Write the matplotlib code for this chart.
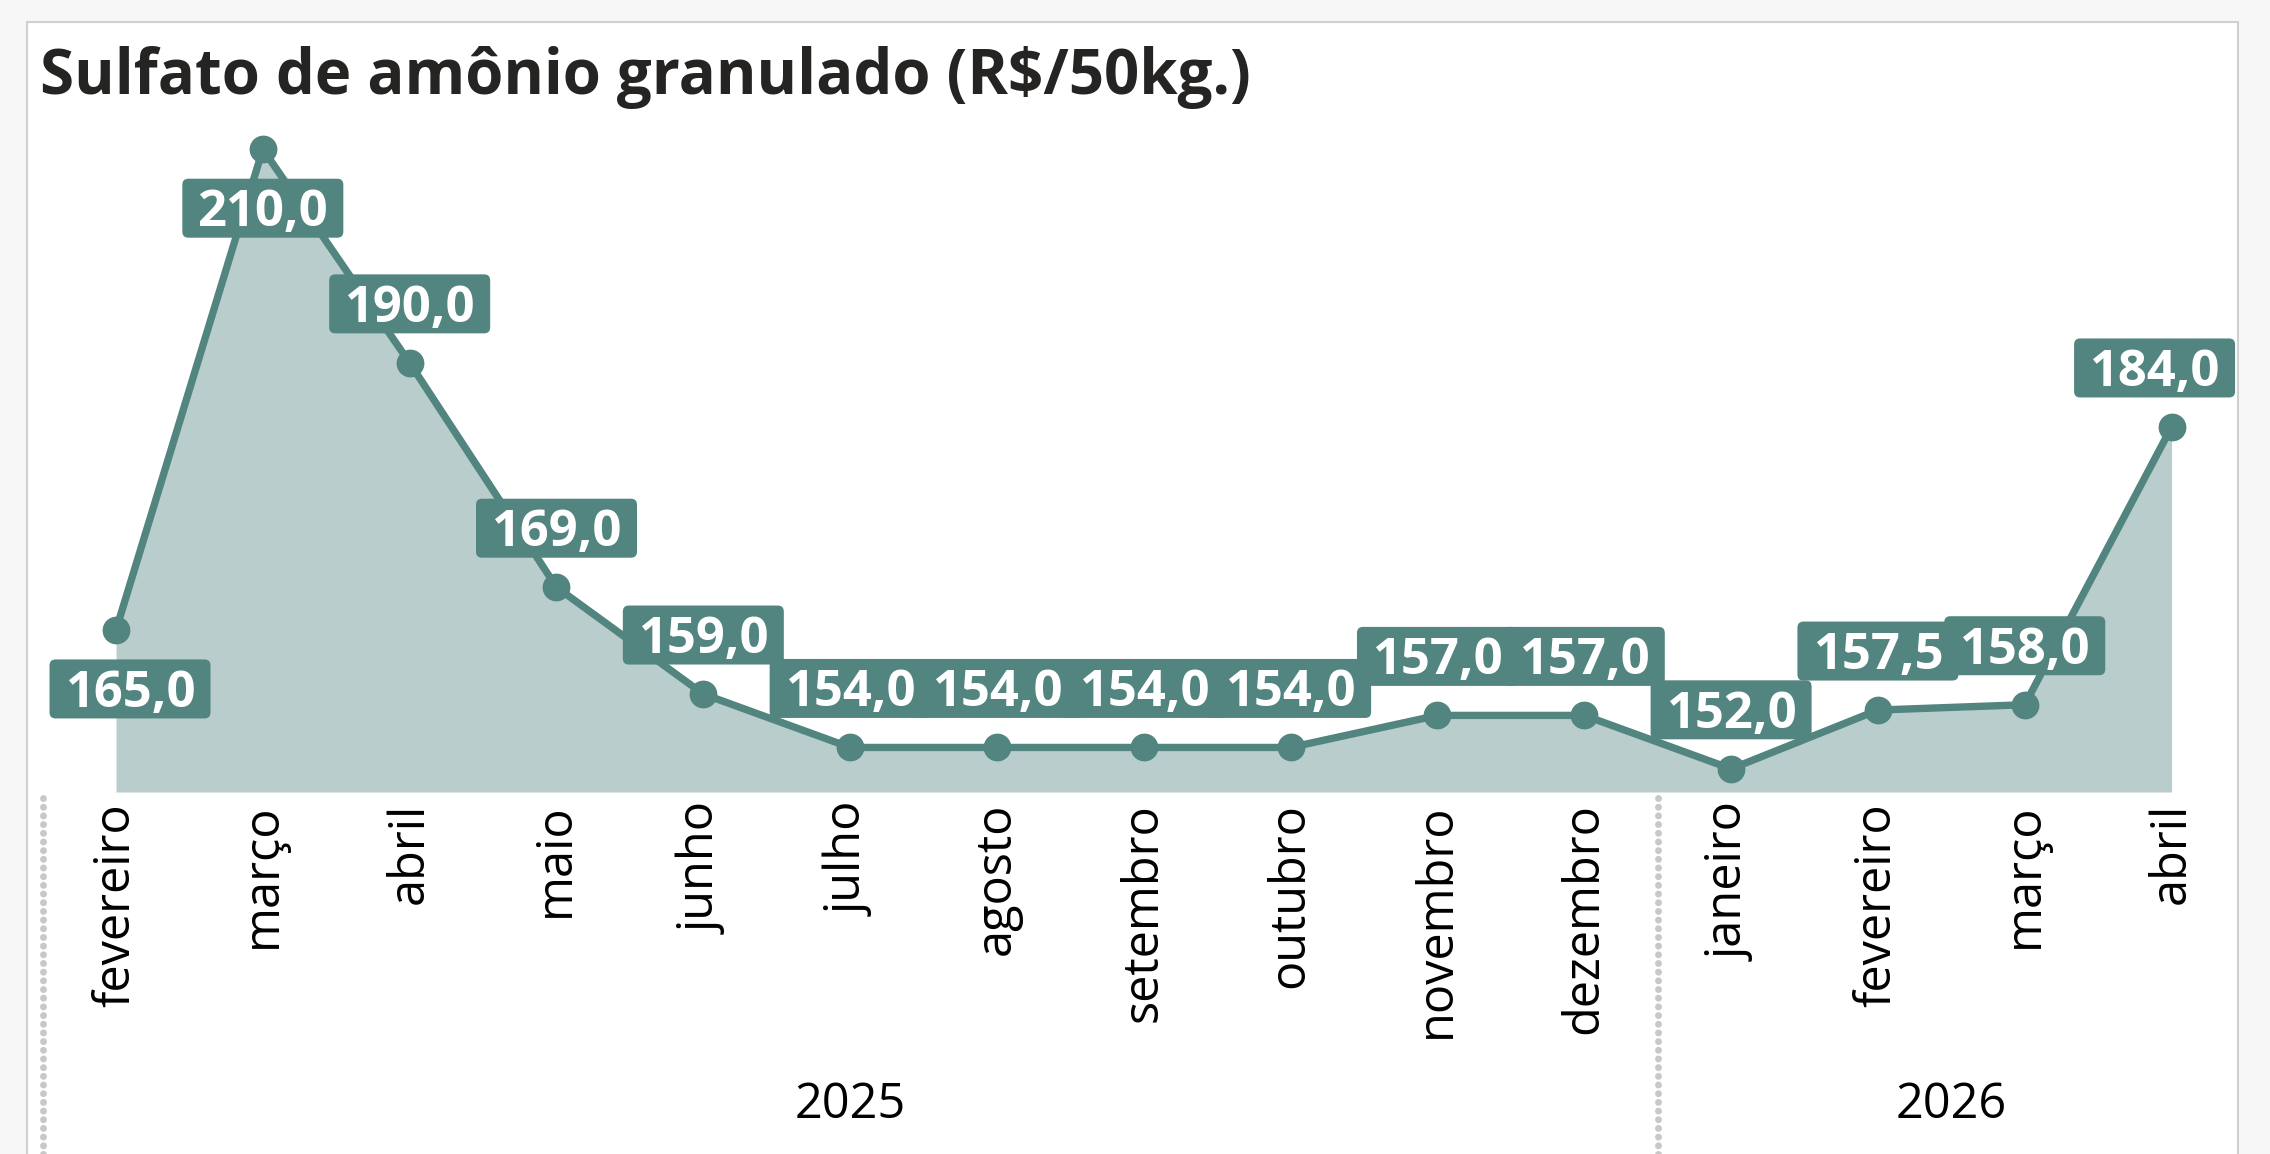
import matplotlib.pyplot as plt
import matplotlib.transforms as mtransforms
from matplotlib.patches import FancyBboxPatch, Rectangle
from matplotlib.lines import Line2D

plt.rcParams['font.family'] = ['Open Sans', 'DejaVu Sans']

# dados do gráfico
meses = ['fevereiro', 'março', 'abril', 'maio', 'junho', 'julho', 'agosto',
         'setembro', 'outubro', 'novembro', 'dezembro',
         'janeiro', 'fevereiro', 'março', 'abril']
anos = ['2025', '2026']
meses_por_ano = [11, 4]
precos = [165.0, 210.0, 190.0, 169.0, 159.0, 154.0, 154.0, 154.0, 154.0,
          157.0, 157.0, 152.0, 157.5, 158.0, 184.0]
titulo = 'Sulfato de amônio granulado (R$/50kg.)'

W, H = 2270, 1154
DPI = 100
LINHA = '#52857f'
AREA = '#b9cdcc'

fig = plt.figure(figsize=(W / DPI, H / DPI), dpi=DPI, facecolor='#f7f7f7')

# moldura branca do visual
fig.patches.append(Rectangle((27 / W, -0.05), (2238 - 27) / W, (H - 22) / H + 0.05,
                             transform=fig.transFigure, facecolor='white',
                             edgecolor='#d0d0d0', linewidth=1.5, zorder=-1))

fig.text(40 / W, 1 - 94 / H, titulo, fontsize=44.5, fontweight='bold',
         color='#252423', va='baseline')

ax = fig.add_axes([42.6 / W, (H - 792) / H, (2245 - 42.6) / W, (792 - 100) / H])
ax.set_facecolor('none')
for s in ax.spines.values():
    s.set_visible(False)

x = list(range(len(precos)))
y0 = 149.83
ax.set_xlim(-0.5, 14.5)
ax.set_ylim(y0, y0 + 692 / 10.683)
ax.set_yticks([])

ax.fill_between(x, precos, y0, color=AREA, lw=0, zorder=1)
ax.plot(x, precos, color=LINHA, lw=5.3, marker='o', ms=19, zorder=3)

ax.set_xticks(x)
ax.set_xticklabels(meses, rotation=90, fontsize=35, color='black')
ax.tick_params(axis='x', length=0, pad=8)

# anos e separadores pontilhados
trans = mtransforms.blended_transform_factory(ax.transData, fig.transFigure)
inicio = 0
for ano, n in zip(anos, meses_por_ano):
    ax.text(inicio + (n - 1) / 2, 1 - 1105 / H, ano, transform=trans,
            ha='center', va='center', fontsize=35, color='black')
    ax.add_line(Line2D([inicio - 0.5] * 2, [0, (H - 794) / H], transform=trans,
                       color='#c8c8c8', lw=5, linestyle=(0, (0.01, 1.24)),
                       dash_capstyle='round', clip_on=False))
    inicio += n

# rótulos de dados
abaixo = {0, 1}
for i, (xi, v) in enumerate(zip(x, precos)):
    dy = -59 if i in abaixo else 59
    dx = 14 if i == 0 else (-17 if i == len(precos) - 1 else 0)
    t = mtransforms.ScaledTranslation(xi, v, ax.transData)
    box = FancyBboxPatch((dx - 80.5, dy - 29.5), 161, 59,
                         boxstyle='round,pad=0,rounding_size=6',
                         transform=t, facecolor=LINHA, edgecolor='none',
                         zorder=5 + 2 * i, clip_on=False)
    ax.add_patch(box)
    ax.text(dx, dy - 18, f'{v:.1f}'.replace('.', ','), transform=t,
            ha='center', va='baseline', fontsize=36.5, fontweight='bold',
            color='white', zorder=6 + 2 * i, clip_on=False)

fig.savefig('out.png', dpi=DPI, facecolor=fig.get_facecolor())
